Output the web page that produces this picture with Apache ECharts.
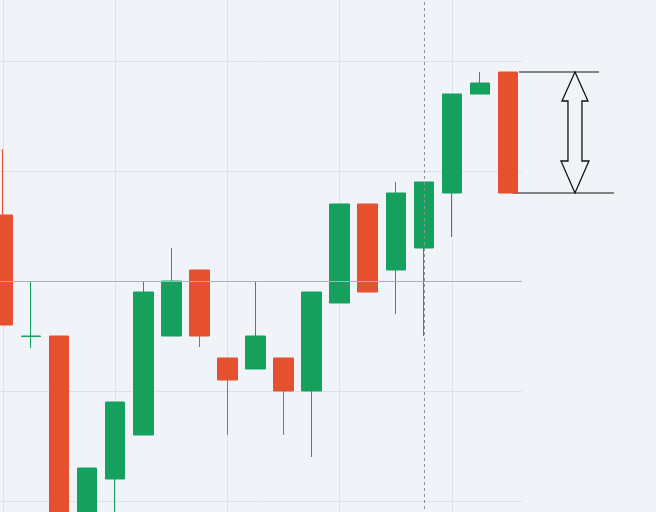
<!DOCTYPE html>
<html>
<head>
<meta charset="utf-8">
<script src="https://cdn.jsdelivr.net/npm/echarts@6/dist/echarts.min.js"></script>
<style>
html,body{margin:0;padding:0;background:#f0f4f8;}
#chart{width:656px;height:512px;}
</style>
</head>
<body>
<div id="chart"></div>
<script>
// categories (sessions)
const categories = ['1','2','3','4','5','6','7','8','9','10','11','12','13','14','15','16','17','18','19'];
// OHLC values: [open, close, low, high]
const opens  = [106, 94.95, 95, 78, 82, 86, 95, 101, 93, 92, 93, 90, 98, 107, 101, 103, 108, 117, 119];
const closes = [96, 95, 77, 83, 89, 99, 100, 95, 91, 95, 90, 99, 107, 99, 108, 109, 117, 118, 108];
const lows   = [96, 93.9, 76, 77, 78.5, 86, 95, 94, 86, 92, 86, 84, 98, 99, 97, 95, 104, 117, 108];
const highs  = [112, 100, 95, 83, 89, 100, 103, 101, 93, 100, 93, 99, 107, 107, 109, 109, 117, 119, 119];
// reference level and marked session
const levelValue = 100;
const markedIndex = 15;
// measured move: [category index, top value, bottom value]
const moveRange = [[18, 119, 108]];

const candleData = categories.map((c, i) => [opens[i], closes[i], lows[i], highs[i]]);

const chart = echarts.init(document.getElementById('chart'));
chart.setOption({
  backgroundColor: '#f0f4f8',
  animation: false,
  grid: { left: -11, right: 134, top: -49, bottom: -99, outerBoundsMode: 'none', containLabel: false },
  xAxis: {
    type: 'category',
    data: categories,
    boundaryGap: true,
    axisLine: { show: false },
    axisTick: { show: false },
    axisLabel: { show: false },
    splitLine: { show: true, interval: 3, alignWithLabel: true, lineStyle: { color: '#dde2e8', width: 1 } }
  },
  yAxis: {
    type: 'value',
    min: 70, max: 130, interval: 10,
    axisLine: { show: false },
    axisTick: { show: false },
    axisLabel: { show: false },
    splitLine: { show: true, lineStyle: { color: '#dde2e8', width: 1 } }
  },
  series: [
    {
      type: 'candlestick',
      data: candleData,
      barWidth: 20,
      itemStyle: {
        color: '#15a05e', borderColor: '#15a05e',
        color0: '#e5502f', borderColor0: '#e5502f',
        borderWidth: 1
      },
      markLine: {
        silent: true,
        symbol: ['none', 'none'],
        label: { show: false },
        data: [
          { yAxis: levelValue, lineStyle: { color: '#a9b0b8', type: 'solid', width: 1 } },
          { xAxis: markedIndex, lineStyle: { color: '#8b949c', type: [3, 3], width: 1 } }
        ]
      }
    },
    {
      type: 'custom',
      clip: false,
      silent: true,
      data: moveRange,
      renderItem: function (params, api) {
        const pt = api.coord([api.value(0), api.value(1)]);
        const pb = api.coord([api.value(0), api.value(2)]);
        const cx = pt[0];
        const yt = pt[1], yb = pb[1];
        const ax = cx + 67;
        const pts = [
          [ax, yt], [ax + 13, yt + 29], [ax + 7, yt + 29], [ax + 7, yb - 32],
          [ax + 14, yb - 32], [ax, yb], [ax - 14, yb - 32], [ax - 7, yb - 32],
          [ax - 7, yt + 29], [ax - 13, yt + 29]
        ];
        return {
          type: 'group',
          children: [
            { type: 'line', shape: { x1: cx + 11, y1: yt, x2: cx + 91, y2: yt }, style: { stroke: '#111', lineWidth: 1.2 } },
            { type: 'line', shape: { x1: cx + 5, y1: yb, x2: cx + 106, y2: yb }, style: { stroke: '#111', lineWidth: 1.2 } },
            { type: 'polygon', shape: { points: pts }, style: { fill: 'none', stroke: '#111', lineWidth: 1.3 } }
          ]
        };
      }
    }
  ]
});
</script>
</body>
</html>
